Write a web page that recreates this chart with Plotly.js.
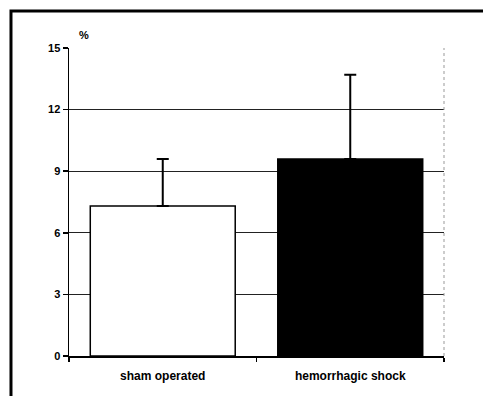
<!DOCTYPE html>
<html>
<head>
<meta charset="utf-8">
<script src="https://cdn.plot.ly/plotly-3.0.1.min.js"></script>
<style>html,body{margin:0;padding:0;background:#fff;}#chart{width:483px;height:396px;}</style>
</head>
<body>
<div id="chart"></div>
<script>
const categories = ["sham operated", "hemorrhagic shock"];
const means = [7.3, 9.6];
const errorsUp = [2.3, 4.1];
const barColors = ["#ffffff", "#000000"];
const yTicks = [0, 3, 6, 9, 12, 15];

const trace = {
  type: "bar",
  x: categories,
  y: means,
  marker: {color: barColors, line: {color: "#000", width: 1.5}},
  error_y: {type: "data", symmetric: false, array: errorsUp, arrayminus: [0, 0], color: "#000", thickness: 2, width: 6},
  hoverinfo: "skip"
};

const layout = {
  width: 483, height: 396,
  margin: {l: 69, r: 39, t: 48, b: 40},
  paper_bgcolor: "#fff", plot_bgcolor: "#fff",
  showlegend: false,
  bargap: 0.227,
  font: {family: "Liberation Sans, Arial, sans-serif", color: "#000", size: 10, weight: "bold"},
  xaxis: {
    type: "category",
    showline: true, linecolor: "#000", linewidth: 1.5,
    ticks: "outside", tickson: "boundaries", ticklen: 4, tickcolor: "#000", tickwidth: 1.5,
    ticklabelstandoff: 8,
    showgrid: false, tickfont: {size: 12, weight: "bold"}
  },
  yaxis: {
    range: [0, 15], tickvals: yTicks, ticktext: yTicks.map(String),
    showline: true, linecolor: "#000", linewidth: 1.5,
    ticks: "outside", ticklen: 5, tickcolor: "#000", tickwidth: 1.5,
    showgrid: true, gridcolor: "#222", gridwidth: 1.3,
    zeroline: false, tickfont: {size: 11, weight: "bold"}
  },
  shapes: [
    {type: "line", xref: "paper", yref: "paper", x0: 1, x1: 1, y0: 0, y1: 1,
     line: {color: "#999", width: 1, dash: "dot"}},
    {type: "rect", xref: "paper", yref: "paper", x0: -0.1547, x1: 1.2, y0: -0.3, y1: 1.12,
     line: {color: "#000", width: 3}, fillcolor: "rgba(0,0,0,0)"}
  ],
  annotations: [
    {text: "%", xref: "paper", yref: "paper", x: 0.021, y: 1.017, xanchor: "left", yanchor: "bottom",
     showarrow: false, font: {size: 11, weight: "bold"}}
  ]
};

Plotly.newPlot("chart", [trace], layout, {displayModeBar: false, staticPlot: true});
</script>
</body>
</html>
